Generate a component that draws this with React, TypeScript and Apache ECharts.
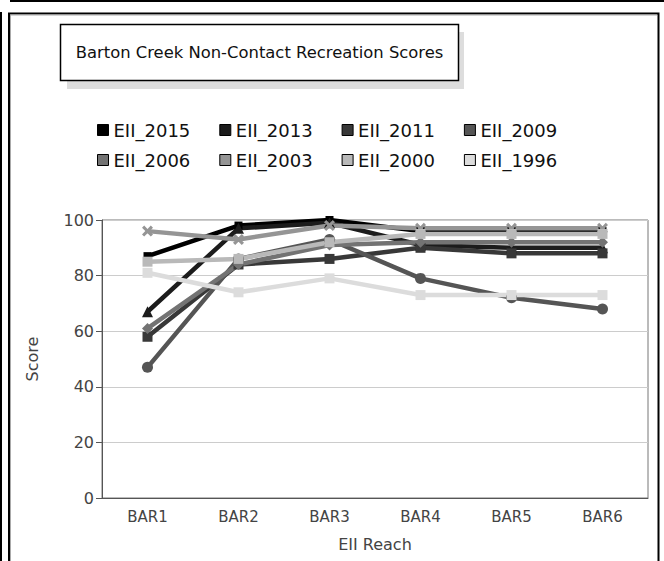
import React, { useEffect, useRef } from "react";
import * as echarts from "echarts";

const categories = ["BAR1", "BAR2", "BAR3", "BAR4", "BAR5", "BAR6"];
const seriesNames = ["EII_2015", "EII_2013", "EII_2011", "EII_2009", "EII_2006", "EII_2003", "EII_2000", "EII_1996"];
const eii2015 = [87, 98, 100, 96, 96, 96];
const eii2013 = [67, 97, 99, 91, 90, 90];
const eii2011 = [58, 84, 86, 90, 88, 88];
const eii2009 = [47, 86, 93, 79, 72, 68];
const eii2006 = [61, 84, 91, 92, 92, 92];
const eii2003 = [96, 93, 98, 97, 97, 97];
const eii2000 = [85, 86, 92, 95, 95, 95];
const eii1996 = [81, 74, 79, 73, 73, 73];
const seriesValues = [eii2015, eii2013, eii2011, eii2009, eii2006, eii2003, eii2000, eii1996];
const yTicks = [0, 20, 40, 60, 80, 100];

const colors = ["#000000", "#1c1c1c", "#383838", "#555555", "#737373", "#959595", "#b9b9b9", "#dcdcdc"];
const xPath = "path://M0,2 L2,0 L5,3 L8,0 L10,2 L7,5 L10,8 L8,10 L5,7 L2,10 L0,8 L3,5 Z";
const symbols = ["rect", "triangle", "rect", "circle", "diamond", xPath, "rect", "rect"];
const symbolSizes = [8, 11, 10, 11, 11, 11, 10, 10];

const FONT = "DejaVu Sans";

export default function App() {
  const ref = useRef<HTMLDivElement>(null);
  useEffect(() => {
    if (!ref.current) return;
    const chart = echarts.init(ref.current, null, { renderer: "svg" });
    const legendBase = {
      left: 97,
      padding: 0,
      itemWidth: 11,
      itemHeight: 11,
      itemGap: 29,
      icon: "rect",
      textStyle: { fontFamily: FONT, fontSize: 18, color: "#111" },
      itemStyle: { borderColor: "#000", borderWidth: 1 },
    };
    const option: any = {
      animation: false,
      backgroundColor: "#ffffff",
      color: colors,
      graphic: [
        { type: "line", shape: { x1: 10, y1: 1, x2: 664, y2: 1 }, style: { stroke: "#000", lineWidth: 2 } },
        { type: "line", shape: { x1: 1, y1: 12, x2: 1, y2: 561 }, style: { stroke: "#000", lineWidth: 2 } },
        { type: "polyline", shape: { points: [[9, 570], [9, 13.5], [658.5, 13.5], [658.5, 570]] }, style: { stroke: "#000", lineWidth: 2, fill: null } },
        { type: "polyline", shape: { points: [[10.5, 570], [10.5, 15], [657, 15]] }, style: { stroke: "#aaaaaa", lineWidth: 1, fill: null } },
        { type: "rect", shape: { x: 67, y: 32, width: 397, height: 57 }, style: { fill: "#dddddd" } },
        { type: "rect", shape: { x: 60.5, y: 24.5, width: 398, height: 56 }, style: { fill: "#ffffff", stroke: "#000", lineWidth: 1.5 } },
        {
          type: "text",
          x: 259.5,
          y: 52,
          style: { text: "Barton Creek Non-Contact Recreation Scores", fontFamily: FONT, fontSize: 16.4, fill: "#111", align: "center", verticalAlign: "middle" },
        },
      ],
      legend: [
        { ...legendBase, data: seriesNames.slice(0, 4), top: 121 },
        { ...legendBase, data: seriesNames.slice(4), top: 151 },
      ],
      grid: { left: 102, top: 220, width: 546, height: 278, show: true, borderColor: "#777", borderWidth: 1, backgroundColor: "transparent" },
      xAxis: {
        type: "category",
        data: categories,
        boundaryGap: true,
        name: "EII Reach",
        nameLocation: "middle",
        nameGap: 38,
        nameTextStyle: { fontFamily: FONT, fontSize: 16, color: "#444" },
        axisLine: { lineStyle: { color: "#555", width: 1 } },
        axisTick: { alignWithLabel: true, length: 5, lineStyle: { color: "#555" } },
        axisLabel: { fontFamily: FONT, fontSize: 15, color: "#444", margin: 11 },
        splitLine: { show: false },
      },
      yAxis: {
        type: "value",
        min: yTicks[0],
        max: yTicks[yTicks.length - 1],
        interval: 20,
        name: "Score",
        nameLocation: "middle",
        nameRotate: 90,
        nameGap: 62,
        nameTextStyle: { fontFamily: FONT, fontSize: 16, color: "#444" },
        axisLine: { show: true, lineStyle: { color: "#555", width: 1 } },
        axisTick: { show: true, length: 6, lineStyle: { color: "#555" } },
        axisLabel: { fontFamily: FONT, fontSize: 16, color: "#444", margin: 8 },
        splitLine: { show: true, lineStyle: { color: "#cccccc", width: 1 } },
      },
      series: seriesNames.map((name, i) => ({
        name,
        type: "line",
        data: seriesValues[i],
        symbol: symbols[i],
        symbolSize: symbolSizes[i],
        showSymbol: true,
        lineStyle: { width: 4.5, color: colors[i] },
        itemStyle: { color: colors[i], borderWidth: 0 },
        emphasis: { disabled: true },
      })),
    };
    chart.setOption(option);
    return () => chart.dispose();
  }, []);
  return <div ref={ref} style={{ position: "absolute", left: 0, top: 0, width: 664, height: 561 }} />;
}
